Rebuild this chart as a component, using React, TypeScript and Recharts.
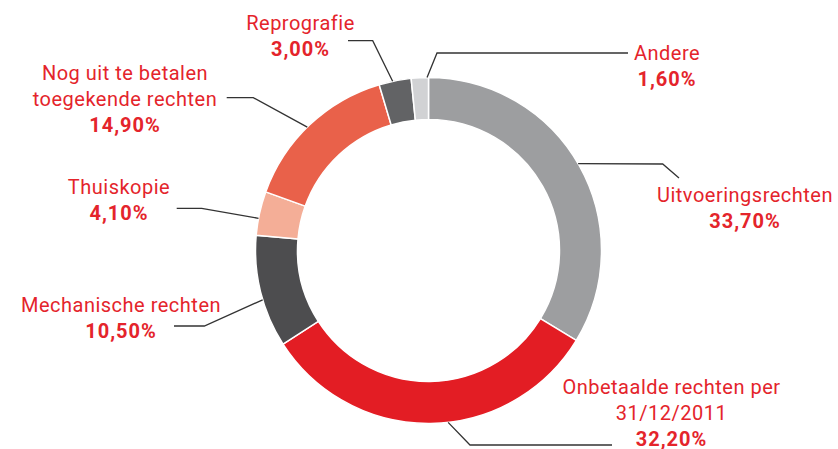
import React from "react";
import { PieChart, Pie, Cell } from "recharts";

const categories = [
  "Uitvoeringsrechten",
  "Onbetaalde rechten per 31/12/2011",
  "Mechanische rechten",
  "Thuiskopie",
  "Nog uit te betalen toegekende rechten",
  "Reprografie",
  "Andere",
];
const shares = [33.7, 32.2, 10.5, 4.1, 14.9, 3.0, 1.6];
const labelLines = [
  ["Uitvoeringsrechten"],
  ["Onbetaalde rechten per", "31/12/2011"],
  ["Mechanische rechten"],
  ["Thuiskopie"],
  ["Nog uit te betalen", "toegekende rechten"],
  ["Reprografie"],
  ["Andere"],
];
const colors = ["#9d9ea0", "#e31d24", "#4d4d4f", "#f4ae97", "#e9614a", "#626365", "#d1d2d4"];

// label layout (page coordinates): leader nudge (deg, clockwise), elbow, end, text center x, first baseline
const labelLayout = [
  { nudge: -0.8, elbow: [662.7, 164], end: [679, 178], tx: 745, ty: 201.7 },
  { nudge: -5.8, elbow: [470, 445], end: [612, 445], tx: 671.5, ty: 393.5 },
  { nudge: -2.7, elbow: [204.3, 326], end: [174, 326], tx: 121, ty: 311.7 },
  { nudge: -1.7, elbow: [201.7, 208.3], end: [176.7, 208.3], tx: 119, ty: 194.3 },
  { nudge: -1.1, elbow: [253.3, 97.7], end: [226.7, 97.7], tx: 125, ty: 80 },
  { nudge: -0.8, elbow: [372.7, 40.7], end: [348, 40.7], tx: 300.5, ty: 30 },
  { nudge: 2.4, elbow: [437, 53], end: [628, 53], tx: 667, ty: 60 },
];

const data = categories.map((name, i) => ({ name, value: shares[i] }));

const RAD = Math.PI / 180;
const LINE_GAP = 26;
const FONT = "Roboto, 'DejaVu Sans', sans-serif";
const RED = "#e4242b";

const fmt = (v: number) => v.toFixed(2).replace(".", ",") + "%";

const renderLabel = (props: any) => {
  const { cx, cy, midAngle, outerRadius, index } = props;
  const lay = labelLayout[index];
  const a = (midAngle - lay.nudge) * RAD;
  const sx = cx + outerRadius * Math.cos(-a);
  const sy = cy + outerRadius * Math.sin(-a);
  const lines = labelLines[index];
  return (
    <g key={`lbl-${index}`}>
      <polyline
        points={`${sx},${sy} ${lay.elbow[0]},${lay.elbow[1]} ${lay.end[0]},${lay.end[1]}`}
        fill="none"
        stroke="#333333"
        strokeWidth={1.3}
      />
      {lines.map((t, j) => (
        <text
          key={j}
          x={lay.tx}
          y={lay.ty + j * LINE_GAP}
          textAnchor="middle"
          fill={RED}
          fontFamily={FONT}
          fontSize={20}
          letterSpacing={0.5}
        >
          {t}
        </text>
      ))}
      <text
        x={lay.tx}
        y={lay.ty + lines.length * LINE_GAP}
        textAnchor="middle"
        fill={RED}
        fontFamily={FONT}
        fontSize={20}
        fontWeight="bold"
        letterSpacing={1}
      >
        {fmt(shares[index])}
      </text>
    </g>
  );
};

export default function App() {
  return (
    <div style={{ position: "absolute", left: 0, top: 0, background: "#fff" }}>
      <PieChart width={838} height={449} margin={{ top: 0, right: 0, bottom: 0, left: 0 }}>
        <Pie
          data={data}
          dataKey="value"
          nameKey="name"
          cx={428.5}
          cy={250.5}
          innerRadius={131}
          outerRadius={173}
          startAngle={90}
          endAngle={-270}
          stroke="#ffffff"
          strokeWidth={1.5}
          label={renderLabel}
          labelLine={false}
          isAnimationActive={false}
        >
          {data.map((d, i) => (
            <Cell key={d.name} fill={colors[i]} />
          ))}
        </Pie>
      </PieChart>
    </div>
  );
}
